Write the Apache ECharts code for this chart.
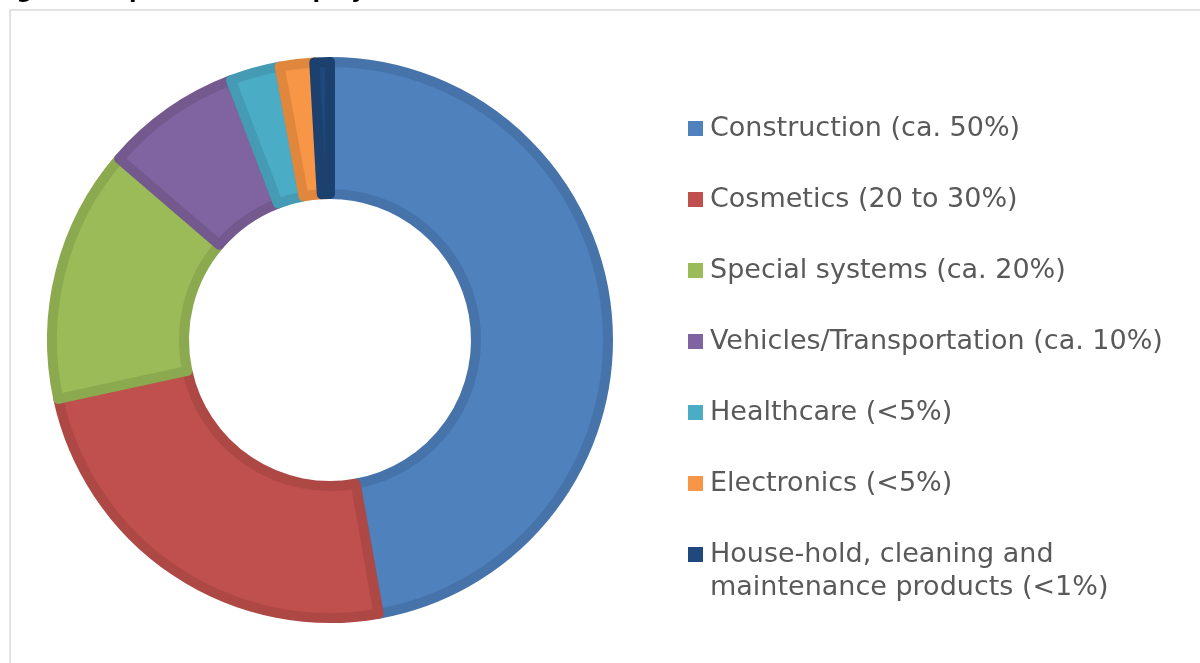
<!DOCTYPE html>
<html>
<head>
<meta charset="utf-8">
<title>Silicone polymer use sectors</title>
<script src="https://cdn.jsdelivr.net/npm/echarts@6/dist/echarts.min.js"></script>
<style>
  html, body { margin: 0; padding: 0; background: #fff; }
  #chart { width: 1200px; height: 663px; }
</style>
</head>
<body>
<div id="chart"></div>
<script>
var sectors = [
  'Construction (ca. 50%)',
  'Cosmetics (20 to 30%)',
  'Special systems (ca. 20%)',
  'Vehicles/Transportation (ca. 10%)',
  'Healthcare (<5%)',
  'Electronics (<5%)',
  'House-hold, cleaning and\nmaintenance products (<1%)'
]
var shares = [47.2, 24.4, 14.7, 7.9, 2.9, 2.0, 0.9]

var fillColors = ['#4F81BD', '#C0504D', '#9BBB59', '#8064A2', '#4BACC6', '#F79646', '#1F497D']
var edgeColors = ['#4673AA', '#AE4845', '#8BAA4F', '#74598F', '#449BB3', '#E0863D', '#1C416F']

var chart = echarts.init(document.getElementById('chart'))

var pieData = sectors.map(function (name, i) {
  return {
    name: name,
    value: shares[i],
    itemStyle: {
      color: fillColors[i],
      borderColor: edgeColors[i]
    }
  }
})

var legendText = {
  fontFamily: '"DejaVu Sans", Verdana, sans-serif',
  fontSize: 27,
  lineHeight: 33,
  color: '#595959',
  padding: [0, 0, 0, 2]
}

var legendBase = {
  orient: 'vertical',
  left: 683,
  height: 700,
  itemWidth: 15,
  itemHeight: 15,
  itemGap: 38,
  icon: 'rect',
  selectedMode: false,
  itemStyle: { borderWidth: 0 },
  textStyle: legendText
}

chart.setOption({
  animation: false,
  backgroundColor: '#fff',
  graphic: [
    {
      type: 'rect',
      silent: true,
      shape: { x: 10, y: 10, width: 1400, height: 900 },
      style: { fill: 'none', stroke: '#D9D9D9', lineWidth: 1.5 }
    },
    {
      type: 'text',
      silent: true,
      x: -6,
      y: 3,
      style: {
        text: 'Figure 3: Split of silicone polymer uses/ use sectors',
        font: 'bold 22px "DejaVu Sans", Verdana, sans-serif',
        fill: '#000',
        verticalAlign: 'bottom'
      }
    }
  ],
  legend: [
    Object.assign({}, legendBase, {
      top: 107,
      data: sectors.slice(0, 6)
    }),
    // last entry on its own so the marker sits on its first line
    Object.assign({}, legendBase, {
      top: 500,
      data: sectors.slice(6),
      formatter: function (name) {
        return '\n' + name
      }
    })
  ],
  series: [
    {
      type: 'pie',
      center: [330, 340],
      radius: [146, 278],
      startAngle: 90,
      clockwise: true,
      silent: true,
      label: { show: false },
      labelLine: { show: false },
      itemStyle: { borderWidth: 10 },
      data: pieData
    }
  ]
})
</script>
</body>
</html>
